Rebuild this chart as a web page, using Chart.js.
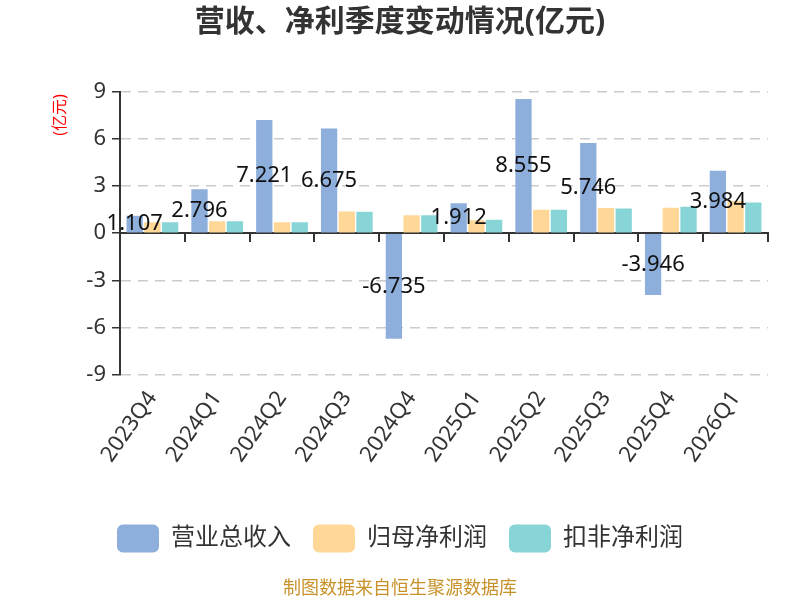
<!DOCTYPE html>
<html>
<head>
<meta charset="utf-8">
<script src="https://cdn.jsdelivr.net/npm/chart.js@4/dist/chart.umd.min.js"></script>
<style>
  body { margin: 0; background: #fff; }
</style>
</head>
<body>
<canvas id="revChart" width="800" height="600"></canvas>
<script>
    const quarters = ["2023Q4", "2024Q1", "2024Q2", "2024Q3", "2024Q4", "2025Q1", "2025Q2", "2025Q3", "2025Q4", "2026Q1"];
    const revenue = [1.107, 2.796, 7.221, 6.675, -6.735, 1.912, 8.555, 5.746, -3.946, 3.984];
    const netProfit = [0.70, 0.76, 0.70, 1.39, 1.15, 0.83, 1.50, 1.60, 1.62, 2.05];
    const deductedProfit = [0.70, 0.76, 0.70, 1.36, 1.15, 0.85, 1.50, 1.58, 1.68, 1.95];
    const yTicks = [-9, -6, -3, 0, 3, 6, 9];

    const FONT = "'Noto Sans', 'Noto Sans CJK SC', sans-serif";

    // value labels in the middle of the revenue bars
    const barLabels = {
        id: "barLabels",
        afterDatasetsDraw(chart) {
            const ctx = chart.ctx;
            const meta = chart.getDatasetMeta(0);
            ctx.save();
            ctx.font = "22px " + FONT;
            ctx.fillStyle = "#111";
            ctx.textAlign = "center";
            ctx.textBaseline = "middle";
            meta.data.forEach((bar, i) => {
                const p = bar.getProps(["x", "y", "base"], true);
                ctx.fillText(revenue[i].toFixed(3), p.x, (p.y + p.base) / 2);
            });
            ctx.restore();
        }
    };

    // small red unit label left of the y axis
    const unitLabel = {
        id: "unitLabel",
        afterDraw(chart) {
            const ctx = chart.ctx;
            ctx.save();
            ctx.translate(60, 115);
            ctx.rotate(-Math.PI / 2);
            ctx.font = "16px " + FONT;
            ctx.fillStyle = "#ff0000";
            ctx.textAlign = "center";
            ctx.textBaseline = "middle";
            ctx.fillText("(亿元)", 0, 0);
            ctx.restore();
        }
    };

    const ctx = document.getElementById("revChart").getContext("2d");

    new Chart(ctx, {
        type: "bar",
        data: {
            labels: quarters,
            datasets: [
                { label: "营业总收入", data: revenue, backgroundColor: "#8eaedc" },
                { label: "归母净利润", data: netProfit, backgroundColor: "#ffd897" },
                { label: "扣非净利润", data: deductedProfit, backgroundColor: "#88d5d8" },
            ],
        },
        options: {
            responsive: false,
            animation: false,
            categoryPercentage: 0.82,
            barPercentage: 0.92,
            layout: { padding: { left: 32, right: 32, top: 4, bottom: 0 } },
            font: { family: FONT },
            scales: {
                x: {
                    position: { y: 0 },
                    ticks: { display: false },
                    grid: { offset: true, drawOnChartArea: false, tickLength: 8, color: "#333", lineWidth: 2 },
                    border: { color: "#333", width: 2 },
                },
                x2: {
                    type: "category",
                    labels: quarters,
                    position: "bottom",
                    offset: true,
                    grid: { display: false },
                    border: { display: false },
                    ticks: {
                        minRotation: 55,
                        maxRotation: 55,
                        color: "#333",
                        padding: 4,
                        font: { size: 22, family: FONT },
                    },
                    afterFit: (axis) => { axis.height = 128; },
                },
                y: {
                    min: -9,
                    max: 9,
                    afterBuildTicks: (axis) => { axis.ticks = yTicks.map(v => ({ value: v })); },
                    afterFit: (axis) => { axis.width = 88; },
                    ticks: { color: "#333", padding: 6, font: { size: 22, family: FONT } },
                    grid: {
                        color: (c) => c.tick && c.tick.value === 0 ? "rgba(0,0,0,0)" : "#cccccc",
                        tickColor: "#333",
                        tickLength: 8,
                        lineWidth: 1.5,
                    },
                    border: { color: "#333", width: 2, dash: [10, 7] },
                },
            },
            plugins: {
                title: {
                    display: true,
                    text: "营收、净利季度变动情况(亿元)",
                    color: "#333",
                    font: { size: 30, weight: "bold", family: FONT },
                    padding: { top: 0, bottom: 52 },
                },
                subtitle: {
                    display: true,
                    position: "bottom",
                    text: "制图数据来自恒生聚源数据库",
                    color: "#c8922a",
                    font: { size: 18, family: FONT },
                    padding: { top: 16, bottom: 0 },
                },
                legend: {
                    position: "bottom",
                    labels: {
                        color: "#333",
                        font: { size: 24, family: FONT },
                        boxWidth: 42,
                        boxHeight: 28,
                        useBorderRadius: true,
                        borderRadius: 6,
                        padding: 22,
                    },
                },
                tooltip: { enabled: false },
            },
        },
        plugins: [barLabels, unitLabel],
    });
</script>
</body>
</html>
